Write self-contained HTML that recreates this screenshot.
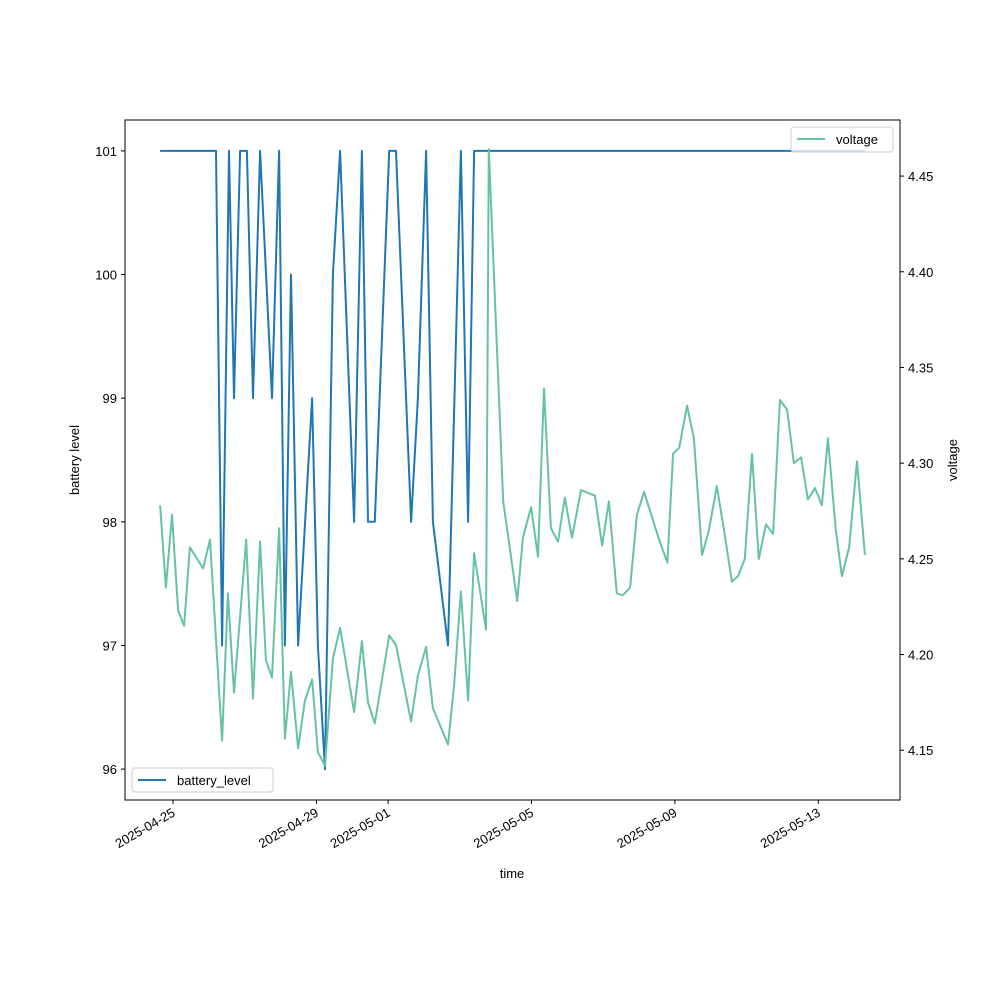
<!DOCTYPE html>
<html><head><meta charset="utf-8"><style>
body{margin:0;background:#fff}
svg text{font-family:"Liberation Sans","DejaVu Sans",sans-serif;font-size:13px;fill:#000}
</style></head><body>
<svg id="chart" width="1000" height="1000" xmlns="http://www.w3.org/2000/svg">
<rect width="1000" height="1000" fill="#fff"/>
<g id="plot"></g>
</svg>
<script>
const batteryDays=[-0.36,1.20,1.37,1.56,1.70,1.87,2.06,2.23,2.43,2.76,2.96,3.12,3.29,3.49,3.88,4.04,4.24,4.46,4.66,5.05,5.27,5.44,5.63,6.03,6.22,6.64,6.83,7.06,7.25,7.67,8.03,8.23,8.40,19.30];
const batteryLevel=[101,101,97,101,99,101,101,99,101,99,101,97,100,97,99,97,96,100,101,98,101,98,98,101,101,98,99,101,98,97,101,98,101,101];
const voltageDays=[-0.36,-0.20,-0.03,0.14,0.31,0.47,0.84,1.03,1.37,1.53,1.70,2.04,2.23,2.43,2.59,2.76,2.96,3.12,3.29,3.49,3.68,3.88,4.04,4.24,4.46,4.66,5.05,5.27,5.44,5.63,6.03,6.22,6.64,6.83,7.06,7.25,7.67,7.84,8.03,8.23,8.40,8.73,8.81,9.21,9.37,9.60,9.76,9.99,10.18,10.35,10.54,10.74,10.93,11.13,11.38,11.77,11.97,12.16,12.38,12.55,12.75,12.94,13.14,13.56,13.79,13.95,14.12,14.34,14.53,14.76,14.95,15.17,15.37,15.59,15.76,15.95,16.15,16.34,16.54,16.74,16.93,17.13,17.32,17.52,17.71,17.91,18.10,18.27,18.49,18.66,18.86,19.08,19.30];
const voltage=[4.278,4.235,4.273,4.223,4.215,4.256,4.245,4.260,4.155,4.232,4.180,4.260,4.177,4.259,4.197,4.188,4.266,4.156,4.191,4.151,4.176,4.187,4.149,4.142,4.198,4.214,4.170,4.207,4.175,4.164,4.210,4.205,4.165,4.189,4.204,4.172,4.153,4.184,4.233,4.176,4.253,4.213,4.464,4.280,4.259,4.228,4.261,4.277,4.251,4.339,4.266,4.259,4.282,4.261,4.286,4.283,4.257,4.280,4.232,4.231,4.235,4.273,4.285,4.260,4.248,4.305,4.308,4.330,4.313,4.252,4.265,4.288,4.265,4.238,4.241,4.250,4.305,4.250,4.268,4.263,4.333,4.328,4.300,4.303,4.281,4.287,4.278,4.313,4.265,4.241,4.256,4.301,4.252];
const xTickDays=[0,4,6,10,14,18];
const xTickLabels=["2025-04-25","2025-04-29","2025-05-01","2025-05-05","2025-05-09","2025-05-13"];
const leftTicks=[96,97,98,99,100,101];
const rightTicks=[4.15,4.20,4.25,4.30,4.35,4.40,4.45];

const L=125,R=900,T=120,B=800;
const xMin=-1.34,xMax=20.28,lMin=95.75,lMax=101.25,rMin=4.124,rMax=4.4793;
const sx=d=>L+(d-xMin)/(xMax-xMin)*(R-L);
const sl=v=>B-(v-lMin)/(lMax-lMin)*(B-T);
const sr=v=>B-(v-rMin)/(rMax-rMin)*(B-T);
const NS="http://www.w3.org/2000/svg";
const g=document.getElementById('plot');
function mk(tag,attrs,txt){const e=document.createElementNS(NS,tag);for(const k in attrs)e.setAttribute(k,attrs[k]);if(txt!==undefined)e.textContent=txt;g.appendChild(e);return e;}

let p=batteryDays.map((d,i)=>sx(d).toFixed(1)+','+sl(batteryLevel[i]).toFixed(1)).join(' ');
const bl=mk('polyline',{points:p,fill:'none',stroke:'#1f77b4','stroke-width':2,'stroke-linejoin':'round'});


p=voltageDays.map((d,i)=>sx(d).toFixed(1)+','+sr(voltage[i]).toFixed(1)).join(' ');
const vl=mk('polyline',{points:p,fill:'none',stroke:'#66c2a5','stroke-width':2,'stroke-linejoin':'round'});



const fr=mk('rect',{x:L,y:T,width:R-L,height:B-T,fill:'none',stroke:'#000','stroke-width':1});



xTickDays.forEach((d,i)=>{const x=sx(d);
 mk('line',{x1:x,y1:B,x2:x,y2:B+4,stroke:'#000'});
 const t=mk('text',{x:x,y:B+16,'text-anchor':'end',transform:`rotate(-30 ${x} ${B+10})`},xTickLabels[i]);
 
 
});
leftTicks.forEach(v=>{const y=sl(v);
 mk('line',{x1:L-4,y1:y,x2:L,y2:y,stroke:'#000'});
 const t=mk('text',{x:L-8,y:y+5,'text-anchor':'end'},String(v));
 
 
});
rightTicks.forEach(v=>{const y=sr(v);
 mk('line',{x1:R,y1:y,x2:R+4,y2:y,stroke:'#000'});
 const t=mk('text',{x:R+8,y:y+5,'text-anchor':'start'},v.toFixed(2));
 
 
});
let t=mk('text',{x:512,y:878,'text-anchor':'middle'},'time');


t=mk('text',{x:79,y:460,'text-anchor':'middle',transform:'rotate(-90 79 460)'},'battery level');


t=mk('text',{x:957,y:460,'text-anchor':'middle',transform:'rotate(-90 957 460)'},'voltage');



let lg=mk('rect',{x:132,y:768,width:141,height:24,rx:3,fill:'#fff','fill-opacity':0.8,stroke:'#ccc'});


mk('line',{x1:138,y1:780,x2:166,y2:780,stroke:'#1f77b4','stroke-width':2});
t=mk('text',{x:177,y:785},'battery_level');


lg=mk('rect',{x:791,y:127,width:102,height:25,rx:3,fill:'#fff','fill-opacity':0.8,stroke:'#ccc'});


mk('line',{x1:797,y1:139,x2:825,y2:139,stroke:'#66c2a5','stroke-width':2});
t=mk('text',{x:836,y:144},'voltage');


</script>
</body></html>
